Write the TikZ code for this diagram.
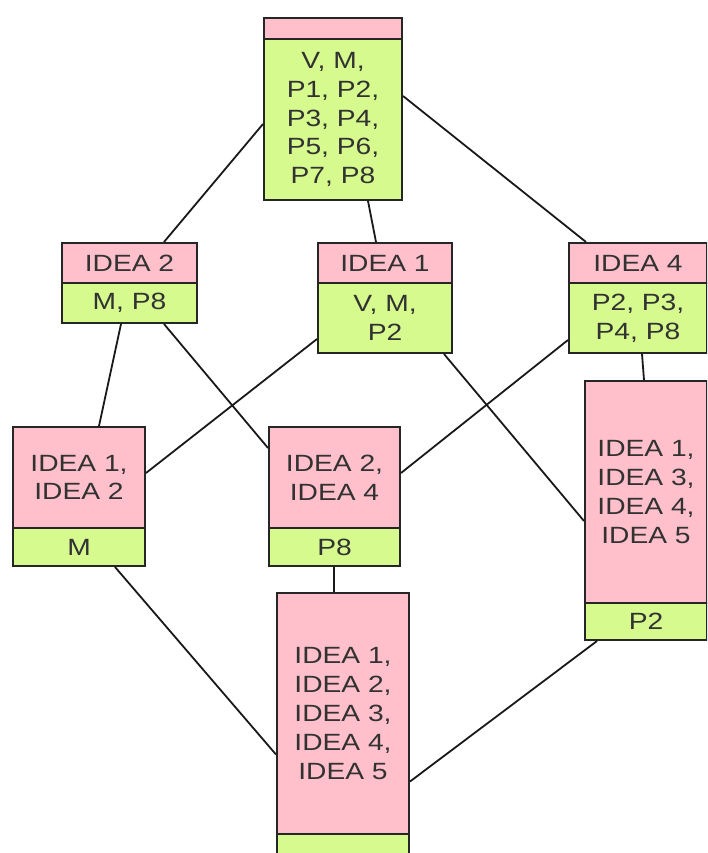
\documentclass[tikz,border=0pt]{standalone}
\usepackage{fontspec}
\setmainfont[FakeStretch=1.2]{Liberation Sans}
\definecolor{cpink}{RGB}{255,192,203}
\definecolor{cgreen}{RGB}{214,250,142}
\definecolor{ctext}{RGB}{50,50,50}
\begin{document}
\begin{tikzpicture}[x=1pt,y=-1pt,
  part/.style={draw=black!85, line width=2pt, inner sep=0pt, anchor=north west,
    align=center, text=ctext, font=\fontsize{23.5}{28.8}\selectfont},
  pinkpart/.style={part, fill=cpink},
  greenpart/.style={part, fill=cgreen},
  link/.style={draw=black!90, line width=1.8pt}]
\useasboundingbox (0,0) rectangle (707,853);
\clip (0,0) rectangle (707,853);
% top concept
\node[pinkpart, minimum width=138pt, minimum height=21pt] (topP) at (263,17) {};
\node[greenpart, minimum width=138pt, minimum height=161pt] (topG) at (263,38) {V, M,\\P1, P2,\\P3, P4,\\P5, P6,\\P7, P8};
% IDEA 2
\node[pinkpart, minimum width=135pt, minimum height=40pt] (i2P) at (61,242) {IDEA 2};
\node[greenpart, minimum width=135pt, minimum height=40pt] (i2G) at (61,282) {M, P8};
% IDEA 1
\node[pinkpart, minimum width=134pt, minimum height=40pt] (i1P) at (317,242) {IDEA 1};
\node[greenpart, minimum width=134pt, minimum height=70pt] (i1G) at (317,282) {V, M,\\P2};
% IDEA 4
\node[pinkpart, minimum width=138pt, minimum height=40pt] (i4P) at (568,242) {IDEA 4};
\node[greenpart, minimum width=138pt, minimum height=70pt] (i4G) at (568,282) {P2, P3,\\P4, P8};
% IDEA 1, IDEA 2
\node[pinkpart, minimum width=132pt, minimum height=101pt] (i12P) at (12,426) {IDEA 1,\\IDEA 2};
\node[greenpart, minimum width=132pt, minimum height=38pt] (i12G) at (12,527) {M};
% IDEA 2, IDEA 4
\node[pinkpart, minimum width=131pt, minimum height=101pt] (i24P) at (268,426) {IDEA 2,\\IDEA 4};
\node[greenpart, minimum width=131pt, minimum height=38pt] (i24G) at (268,527) {P8};
% IDEA 1,3,4,5
\node[pinkpart, minimum width=122pt, minimum height=222pt] (bigP) at (584,380) {IDEA 1,\\IDEA 3,\\IDEA 4,\\IDEA 5};
\node[greenpart, minimum width=122pt, minimum height=37pt] (bigG) at (584,602) {P2};
% bottom concept
\node[pinkpart, minimum width=132pt, minimum height=241pt] (botP) at (276,592) {IDEA 1,\\IDEA 2,\\IDEA 3,\\IDEA 4,\\IDEA 5};
\node[greenpart, minimum width=132pt, minimum height=37pt] (botG) at (276,833) {};
% connectors
\draw[link] ([yshift=-4.5pt]topG.west) -- ([xshift=34.5pt]i2P.north);
\draw[link] ([xshift=35pt]topG.south) -- ([xshift=-9pt]i1P.north);
\draw[link] ([yshift=23.5pt]topG.east) -- ([xshift=-52pt]i4P.north);
\draw[link] ([xshift=-8.5pt]i2G.south) -- ([xshift=20pt]i12P.north);
\draw[link] ([xshift=34.5pt]i2G.south) -- ([yshift=29.5pt]i24P.west);
\draw[link] ([yshift=-21pt]i1G.west) -- ([yshift=4.5pt]i12P.east);
\draw[link] ([xshift=59pt]i1G.south) -- ([yshift=-29pt]bigP.west);
\draw[link] ([yshift=-22pt]i4G.west) -- ([yshift=4.5pt]i24P.east);
\draw[link] ([xshift=4pt]i4G.south) -- ([xshift=-2pt]bigP.north);
\draw[link] ([xshift=36pt]i12G.south) -- ([yshift=-41pt]botP.west);
\draw[link] ([xshift=-0.5pt]i24G.south) -- ([xshift=-9pt]botP.north);
\draw[link] ([xshift=-49pt]bigG.south) -- ([yshift=-68pt]botP.east);
\end{tikzpicture}
\end{document}
